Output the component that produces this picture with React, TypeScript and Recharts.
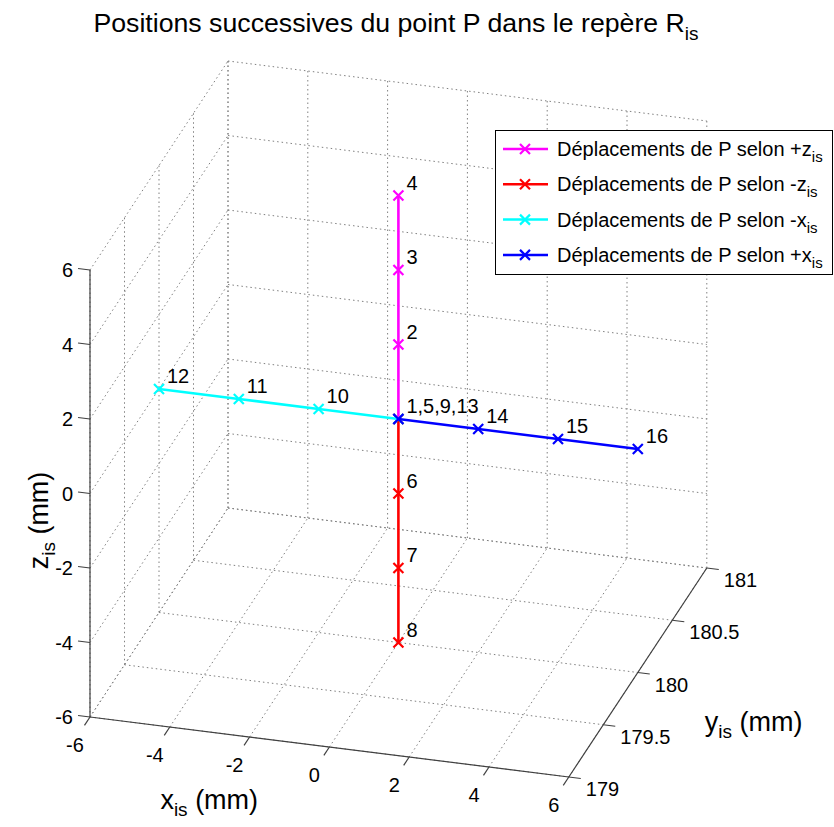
import React from "react";
import { ScatterChart, Scatter, XAxis, YAxis, Legend } from "recharts";

// axis ticks of the 3D box
const xTicks = [-6, -4, -2, 0, 2, 4, 6];
const yTicks = [179, 179.5, 180, 180.5, 181];
const zTicks = [-6, -4, -2, 0, 2, 4, 6];

// successive positions of P: [x, y, z]
const upZ = [[0, 180, 0], [0, 180, 2], [0, 180, 4], [0, 180, 6]];
const upZLabels = ["", "2", "3", "4"];
const downZ = [[0, 180, 0], [0, 180, -2], [0, 180, -4], [0, 180, -6]];
const downZLabels = ["", "6", "7", "8"];
const downX = [[0, 180, 0], [-2, 180, 0], [-4, 180, 0], [-6, 180, 0]];
const downXLabels = ["", "10", "11", "12"];
const upX = [[0, 180, 0], [2, 180, 0], [4, 180, 0], [6, 180, 0]];
const upXLabels = ["1,5,9,13", "14", "15", "16"];

const seriesNames = ["+z", "-z", "-x", "+x"];
const seriesColors = ["#ff00ff", "#ff0000", "#00ffff", "#0000ff"];

const FONT = "'Liberation Sans', Arial, Helvetica, sans-serif";
const W = 834;
const H = 827;

// orthographic view (MATLAB-like az/el) -> page coordinates
function proj(x: number, y: number, z: number) {
  return {
    sx: 90 + (x + 6) * 39.9 + (y - 179) * 69,
    sy: 717 + (x + 6) * 5.0 - (y - 179) * 104.5 - (z + 6) * 37.25,
  };
}

type P3 = number[];
const seg = (a: P3, b: P3) => [proj(a[0], a[1], a[2]), proj(b[0], b[1], b[2])];

const gridSegs: any[] = [];
yTicks.forEach((y) => gridSegs.push(seg([-6, y, -6], [-6, y, 6])));
zTicks.forEach((z) => gridSegs.push(seg([-6, 179, z], [-6, 181, z])));
xTicks.forEach((x) => gridSegs.push(seg([x, 179, -6], [x, 181, -6])));
yTicks.forEach((y) => gridSegs.push(seg([-6, y, -6], [6, y, -6])));
xTicks.forEach((x) => gridSegs.push(seg([x, 181, -6], [x, 181, 6])));
zTicks.forEach((z) => gridSegs.push(seg([-6, 181, z], [6, 181, z])));

const axisSegs = [
  seg([-6, 179, -6], [-6, 179, 6]),
  seg([-6, 179, -6], [6, 179, -6]),
  seg([6, 179, -6], [6, 181, -6]),
  ...zTicks.map((z) => seg([-6, 179, z], [-6.3, 179, z])),
  ...xTicks.map((x) => seg([x, 179, -6], [x, 178.92, -6])),
  ...yTicks.map((y) => seg([6, y, -6], [6.3, y, -6])),
];

const zLabelPts = zTicks.map((z) => ({ ...proj(-6, 179, z), t: String(z) }));
const xLabelPts = xTicks.map((x) => ({ ...proj(x, 179, -6), t: String(x) }));
const yLabelPts = yTicks.map((y) => ({ ...proj(6, y, -6), t: String(y) }));

const build = (pts: P3[], labels: string[]) =>
  pts.map((p, i) => ({ ...proj(p[0], p[1], p[2]), label: labels[i] }));
const series = [
  build(upZ, upZLabels),
  build(downZ, downZLabels),
  build(downX, downXLabels),
  build(upX, upXLabels),
];

const noDot = () => <g />;

const crossShape = (color: string) => (p: any) => {
  const { cx, cy, payload } = p;
  const s = 5;
  return (
    <g>
      <path
        d={`M${cx - s},${cy - s}L${cx + s},${cy + s}M${cx - s},${cy + s}L${cx + s},${cy - s}`}
        stroke={color}
        strokeWidth={2.2}
      />
      {payload.label ? (
        <text x={cx + 8} y={cy - 6} fontSize={20} fontFamily={FONT} fill="#000">
          {payload.label}
        </text>
      ) : null}
    </g>
  );
};

const tickText = (dx: number, dy: number, anchor: string) => (p: any) => (
  <text
    x={p.cx + dx}
    y={p.cy + dy}
    fontSize={20}
    fontFamily={FONT}
    textAnchor={anchor}
    dominantBaseline="central"
    fill="#000"
  >
    {p.payload.t}
  </text>
);

function LegendBox() {
  return (
    <svg width={339} height={146} style={{ display: "block" }}>
      <rect x={0.5} y={0.5} width={337} height={144} fill="#fff" stroke="#000" strokeWidth={1} />
      {seriesNames.map((n, i) => {
        const cy = 19 + i * 35.3;
        return (
          <g key={n}>
            <line x1={8} x2={53} y1={cy} y2={cy} stroke={seriesColors[i]} strokeWidth={2.5} />
            <path d={`M25,${cy - 5}L35,${cy + 5}M25,${cy + 5}L35,${cy - 5}`} stroke={seriesColors[i]} strokeWidth={2.2} />
            <text x={62} y={cy + 7} fontSize={20} fontFamily={FONT} fill="#000">
              Déplacements de P selon {n}
              <tspan fontSize={15} dy={6}>is</tspan>
            </text>
          </g>
        );
      })}
    </svg>
  );
}

export default function App() {
  const zl = proj(-6, 179, 0);
  const xl = proj(0, 179, -6);
  const yl = proj(6, 180, -6);
  return (
    <div style={{ position: "absolute", left: 0, top: 0, width: W, height: H, background: "#fff" }}>
      <ScatterChart width={W} height={H} margin={{ top: 0, right: 0, bottom: 0, left: 0 }}>
        <XAxis type="number" dataKey="sx" domain={[0, W]} allowDataOverflow hide />
        <YAxis type="number" dataKey="sy" domain={[0, H]} allowDataOverflow reversed hide />
        {gridSegs.map((d, i) => (
          <Scatter
            key={`g${i}`}
            data={d}
            isAnimationActive={false}
            shape={noDot}
            legendType="none"
            line={{ stroke: "#808080", strokeWidth: 1, strokeDasharray: "1.5 3" }}
          />
        ))}
        {axisSegs.map((d, i) => (
          <Scatter
            key={`a${i}`}
            data={d}
            isAnimationActive={false}
            shape={noDot}
            legendType="none"
            line={{ stroke: "#404040", strokeWidth: 1.2 }}
          />
        ))}
        <Scatter data={zLabelPts} isAnimationActive={false} legendType="none" shape={tickText(-17, 0, "end")} />
        <Scatter data={xLabelPts} isAnimationActive={false} legendType="none" shape={tickText(-15, 28, "middle")} />
        <Scatter data={yLabelPts} isAnimationActive={false} legendType="none" shape={tickText(17, 12, "start")} />
        {series.map((d, i) => (
          <Scatter
            key={`s${i}`}
            name={seriesNames[i]}
            data={d}
            isAnimationActive={false}
            fill={seriesColors[i]}
            line={{ stroke: seriesColors[i], strokeWidth: 2.6 }}
            shape={crossShape(seriesColors[i])}
          />
        ))}
        <Legend
          layout="vertical"
          align="center"
          verticalAlign="middle"
          wrapperStyle={{ left: 495, top: 130, width: 339, height: 146 }}
          content={() => <LegendBox />}
        />
      </ScatterChart>
      <svg width={W} height={H} style={{ position: "absolute", left: 0, top: 0, pointerEvents: "none" }}>
        <text x={396} y={32} fontSize={26.7} fontFamily={FONT} textAnchor="middle" fill="#000">
          Positions successives du point P dans le repère R
          <tspan fontSize={19} dy={8}>is</tspan>
        </text>
        <text x={xl.sx - 169} y={xl.sy + 62} fontSize={27} fontFamily={FONT} fill="#000">
          x<tspan fontSize={19} dy={7}>is</tspan>
          <tspan dy={-7}> (mm)</tspan>
        </text>
        <text x={yl.sx + 67} y={yl.sy + 58} fontSize={27} fontFamily={FONT} fill="#000">
          y<tspan fontSize={19} dy={7}>is</tspan>
          <tspan dy={-7}> (mm)</tspan>
        </text>
        <text
          x={0}
          y={0}
          transform={`translate(${zl.sx - 42},${zl.sy + 27}) rotate(-90)`}
          fontSize={27}
          fontFamily={FONT}
          textAnchor="middle"
          fill="#000"
        >
          z<tspan fontSize={19} dy={7}>is</tspan>
          <tspan dy={-7}> (mm)</tspan>
        </text>
      </svg>
    </div>
  );
}
